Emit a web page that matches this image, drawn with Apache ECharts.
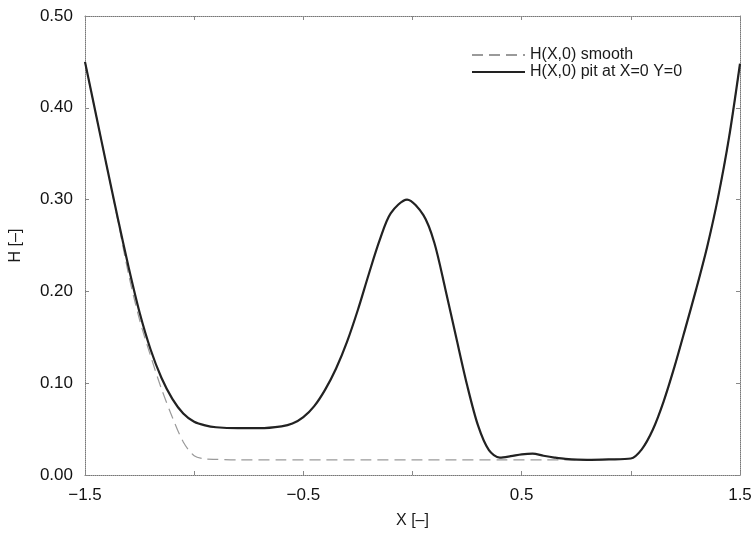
<!DOCTYPE html>
<html>
<head>
<meta charset="utf-8">
<script src="https://cdn.jsdelivr.net/npm/echarts@6/dist/echarts.min.js"></script>
<style>html,body{margin:0;padding:0;background:#fff}#c{width:755px;height:534px}</style>
</head>
<body>
<div id="c"></div>
<script>
const xSmooth = [-1.5,-1.45,-1.4,-1.35,-1.3,-1.25,-1.2,-1.15,-1.1,-1.05,-1.0,-0.95,-0.9,-0.8,-0.6,-0.4,-0.2,0.0,0.2,0.4,0.6,0.8,0.9,1.0,1.05,1.1,1.15,1.2,1.25,1.3,1.35,1.4,1.45,1.5];
const ySmooth = [0.450,0.393,0.336,0.278,0.218,0.169,0.130,0.094,0.063,0.036,0.021,0.0175,0.017,0.0165,0.0165,0.0165,0.0165,0.0165,0.0165,0.0165,0.0165,0.0165,0.017,0.018,0.028,0.049,0.080,0.118,0.160,0.203,0.249,0.303,0.368,0.448];
const xPit = [-1.5,-1.45,-1.4,-1.35,-1.3,-1.25,-1.2,-1.15,-1.1,-1.05,-1.0,-0.95,-0.9,-0.8,-0.7,-0.6,-0.55,-0.5,-0.45,-0.4,-0.35,-0.3,-0.25,-0.2,-0.15,-0.1,-0.025,0.05,0.1,0.15,0.2,0.25,0.3,0.35,0.4,0.45,0.5,0.55,0.6,0.65,0.7,0.8,0.9,1.0,1.05,1.1,1.15,1.2,1.25,1.3,1.35,1.4,1.45,1.5];
const yPit = [0.450,0.393,0.336,0.280,0.226,0.177,0.137,0.106,0.083,0.067,0.058,0.054,0.052,0.051,0.051,0.053,0.056,0.063,0.075,0.093,0.116,0.145,0.180,0.219,0.256,0.285,0.300,0.283,0.253,0.203,0.150,0.098,0.054,0.027,0.019,0.0205,0.0225,0.0233,0.021,0.019,0.0175,0.0165,0.017,0.018,0.028,0.049,0.080,0.118,0.160,0.203,0.249,0.303,0.368,0.448];
const xTickLabels = [-1.5,-0.5,0.5,1.5];
const yTickLabels = [0.0,0.1,0.2,0.3,0.4,0.5];
const seriesNames = ['H(X,0) smooth','H(X,0) pit at X=0 Y=0'];

const font = 'Liberation Sans, Arial, sans-serif';
const frameLine = {show:true, onZero:false, lineStyle:{color:'#777', width:1, type:'dotted'}};
const tickStyle = {show:true, inside:true, length:4, lineStyle:{color:'#888', width:1}};

const chart = echarts.init(document.getElementById('c'), null, {renderer:'canvas'});
chart.setOption({
  animation:false,
  backgroundColor:'#fff',
  grid:{left:84, right:15, top:16, bottom:53, containLabel:false},
  legend:{
    show:true, orient:'vertical', left:466, top:42, itemWidth:53, itemHeight:12, itemGap:1,
    itemStyle:{opacity:0},
    textStyle:{fontFamily:font, fontSize:16, color:'#1a1a1a'},
    data:seriesNames
  },
  xAxis:[{
    type:'value', min:-1.5, max:1.5, interval:0.5,
    name:'X [–]', nameLocation:'middle', nameGap:38,
    nameTextStyle:{fontFamily:font, fontSize:16, color:'#1a1a1a'},
    axisLine:frameLine, axisTick:tickStyle,
    axisLabel:{fontFamily:font, fontSize:17, color:'#111', margin:12,
      formatter:v => xTickLabels.some(t => Math.abs(t-v)<1e-9) ? (v<0?'−':'') + Math.abs(v).toFixed(1) : ''},
    splitLine:{show:false}
  },{
    type:'value', position:'top', min:-1.5, max:1.5, interval:0.5,
    axisLine:frameLine, axisTick:tickStyle,
    axisLabel:{show:false}, splitLine:{show:false}
  }],
  yAxis:[{
    type:'value', min:0, max:0.5, interval:0.1,
    name:'H [–]', nameLocation:'middle', nameGap:61, nameRotate:90,
    nameTextStyle:{fontFamily:font, fontSize:16, color:'#1a1a1a'},
    axisLine:frameLine, axisTick:tickStyle,
    axisLabel:{fontFamily:font, fontSize:17, color:'#111', margin:12,
      formatter:v => { const t = yTickLabels.find(u => Math.abs(u-v)<1e-9); return t===undefined ? '' : t.toFixed(2); }},
    splitLine:{show:false}
  },{
    type:'value', position:'right', min:0, max:0.5, interval:0.1,
    axisLine:frameLine, axisTick:tickStyle,
    axisLabel:{show:false}, splitLine:{show:false}
  }],
  series:[{
    name:seriesNames[0], type:'line', xAxisIndex:0, yAxisIndex:0,
    data:xSmooth.map((x,i)=>[x,ySmooth[i]]),
    showSymbol:false, symbol:'none', smooth:0.3,
    lineStyle:{color:'#9a9a9a', width:1.2, type:[11,6]},
    itemStyle:{color:'#9a9a9a'}, z:2
  },{
    name:seriesNames[1], type:'line', xAxisIndex:0, yAxisIndex:0,
    data:xPit.map((x,i)=>[x,yPit[i]]),
    showSymbol:false, symbol:'none', smooth:0.3,
    lineStyle:{color:'#222', width:2.2},
    itemStyle:{color:'#222'}, z:3
  }]
});
</script>
</body>
</html>
